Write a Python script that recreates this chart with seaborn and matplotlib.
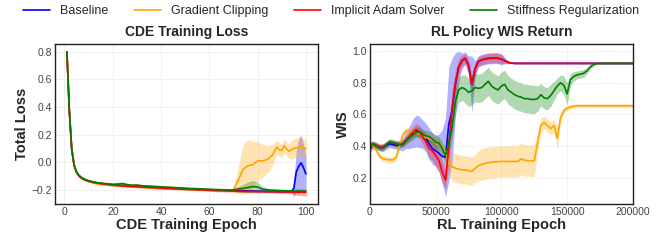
#importing libraries
import numpy as np
import pandas as pd
import seaborn as sns
import matplotlib
matplotlib.use("Agg")
import matplotlib.pyplot as plt

#labels and colours
methods = ["Baseline", "Gradient Clipping", "Implicit Adam Solver", "Stiffness Regularization"]
colors = ["blue", "orange", "red", "green"]

#CDE training loss (mean and spread per epoch)
cde_epochs = list(range(1, 11)) + list(range(12, 89, 2)) + list(range(89, 101))

cde_baseline = [0.80, 0.373, 0.093, -0.022, -0.072, -0.097, -0.112, -0.122, -0.129, -0.135,
                -0.144, -0.150, -0.155, -0.159, -0.163, -0.166, -0.169, -0.171, -0.173, -0.175,
                -0.177, -0.179, -0.181, -0.183, -0.185, -0.187, -0.188, -0.190, -0.191, -0.193,
                -0.194, -0.196, -0.197, -0.198, -0.200, -0.201, -0.202, -0.203, -0.204, -0.205,
                -0.206, -0.207, -0.208, -0.209, -0.210, -0.210, -0.211, -0.211, -0.212,
                -0.212, -0.212, -0.213, -0.213, -0.212, -0.210, -0.190, -0.070, -0.030, -0.005, -0.040, -0.085]
cde_clipping = [0.80, 0.39, 0.11, -0.02, -0.075, -0.10, -0.117, -0.127, -0.135, -0.14,
                -0.150, -0.156, -0.160, -0.164, -0.167, -0.170, -0.173, -0.175, -0.177, -0.179,
                -0.181, -0.183, -0.185, -0.187, -0.189, -0.190, -0.192, -0.193, -0.195, -0.196,
                -0.197, -0.198, -0.200, -0.201, -0.202, -0.203, -0.204, -0.205, -0.205, -0.200,
                -0.130, -0.050, -0.025, -0.018, 0.010, 0.010, 0.020, 0.050, 0.110,
                0.090, 0.085, 0.120, 0.095, 0.080, 0.090, 0.100, 0.105, 0.108, 0.120, 0.100, 0.100]
cde_implicit = [0.80, 0.37, 0.09, -0.025, -0.075, -0.10, -0.115, -0.125, -0.132, -0.138,
                -0.147, -0.153, -0.158, -0.162, -0.166, -0.169, -0.172, -0.174, -0.176, -0.178,
                -0.180, -0.182, -0.184, -0.186, -0.188, -0.190, -0.191, -0.193, -0.194, -0.196,
                -0.197, -0.199, -0.200, -0.201, -0.203, -0.204, -0.205, -0.206, -0.207, -0.208,
                -0.209, -0.210, -0.211, -0.212, -0.213, -0.213, -0.214, -0.214, -0.215,
                -0.215, -0.215, -0.215, -0.216, -0.216, -0.216, -0.216, -0.217, -0.217, -0.217, -0.218, -0.218]
cde_stiffness = [0.80, 0.38, 0.10, -0.02, -0.07, -0.095, -0.11, -0.12, -0.128, -0.134,
                 -0.143, -0.149, -0.153, -0.157, -0.160, -0.158, -0.155, -0.163, -0.166, -0.165,
                 -0.170, -0.172, -0.174, -0.176, -0.178, -0.180, -0.182, -0.184, -0.186, -0.188,
                 -0.190, -0.191, -0.193, -0.195, -0.196, -0.198, -0.199, -0.200, -0.201, -0.200,
                 -0.195, -0.190, -0.183, -0.176, -0.180, -0.195, -0.200, -0.203, -0.205,
                 -0.206, -0.206, -0.207, -0.207, -0.208, -0.208, -0.208, -0.209, -0.209, -0.210, -0.210, -0.210]

cde_baseline_sd = [0.005] * 10 + [0.006] * 39 + [0.006, 0.006, 0.006, 0.006, 0.008, 0.01, 0.06, 0.15, 0.2, 0.2, 0.17, 0.13]
cde_clipping_sd = [0.005] * 10 + [0.006] * 29 + [0.01, 0.1, 0.18, 0.19, 0.17, 0.14, 0.12, 0.1, 0.08, 0.05] + [0.05] * 5 + [0.07] * 7
cde_implicit_sd = [0.005] * 10 + [0.007] * 25 + [0.01] * 14 + [0.012] * 6 + [0.015, 0.025, 0.025, 0.025, 0.025, 0.025]
cde_stiffness_sd = [0.005] * 10 + [0.006] * 5 + [0.012] * 3 + [0.007] * 17 + [0.01] * 5 + [0.02, 0.03, 0.04, 0.045, 0.035, 0.02, 0.012, 0.012, 0.012] + [0.01] * 12

#RL policy WIS return, one value every 2500 epochs
rl_epochs = np.arange(0, 200001, 2500)

rl_baseline = [0.385, 0.405, 0.40, 0.39, 0.39, 0.405, 0.415, 0.41, 0.405, 0.405,
               0.41, 0.435, 0.455, 0.48, 0.495, 0.49, 0.475, 0.455, 0.415, 0.385,
               0.37, 0.355, 0.335, 0.33, 0.54, 0.625, 0.79, 0.90, 0.94, 0.955,
               0.91, 0.79, 0.89, 0.935, 0.945, 0.95, 0.955, 0.955, 0.957, 0.955,
               0.95, 0.94, 0.93, 0.925, 0.923, 0.923, 0.923, 0.923, 0.923, 0.923] + [0.923] * 31
rl_clipping = [0.41, 0.40, 0.37, 0.335, 0.32, 0.315, 0.313, 0.313, 0.33, 0.40,
               0.47, 0.495, 0.497, 0.49, 0.485, 0.48, 0.465, 0.455, 0.448, 0.44,
               0.43, 0.42, 0.40, 0.36, 0.29, 0.27, 0.26, 0.255, 0.25, 0.25,
               0.245, 0.24, 0.26, 0.275, 0.285, 0.29, 0.295, 0.298, 0.30, 0.302,
               0.303, 0.303, 0.303, 0.303, 0.303, 0.303, 0.32, 0.31, 0.308, 0.307,
               0.306, 0.42, 0.53, 0.55, 0.53, 0.51, 0.53, 0.45, 0.58, 0.625,
               0.64, 0.648, 0.652] + [0.655] * 18
rl_implicit = [0.41, 0.415, 0.405, 0.395, 0.395, 0.41, 0.425, 0.42, 0.415, 0.41,
               0.415, 0.44, 0.46, 0.485, 0.505, 0.49, 0.46, 0.43, 0.385, 0.37,
               0.34, 0.31, 0.235, 0.185, 0.40, 0.64, 0.80, 0.90, 0.94, 0.955,
               0.91, 0.79, 0.89, 0.935, 0.945, 0.95, 0.955, 0.955, 0.957, 0.955,
               0.95, 0.94, 0.93, 0.925, 0.923, 0.923, 0.923, 0.923, 0.923, 0.923] + [0.923] * 31
rl_stiffness = [0.405, 0.41, 0.40, 0.39, 0.39, 0.41, 0.425, 0.42, 0.415, 0.41,
                0.415, 0.435, 0.455, 0.47, 0.485, 0.49, 0.475, 0.465, 0.46, 0.445,
                0.425, 0.42, 0.385, 0.34, 0.42, 0.52, 0.68, 0.755, 0.77, 0.76,
                0.74, 0.75, 0.77, 0.765, 0.77, 0.79, 0.81, 0.78, 0.765, 0.755,
                0.78, 0.79, 0.755, 0.74, 0.725, 0.715, 0.71, 0.70, 0.70, 0.695,
                0.695, 0.70, 0.725, 0.705, 0.70, 0.72, 0.75, 0.78, 0.80, 0.785,
                0.73, 0.82, 0.84, 0.85, 0.855, 0.86, 0.875, 0.90, 0.915, 0.922] + [0.923] * 11

rl_baseline_sd = [0.025, 0.02, 0.02, 0.02, 0.025, 0.025, 0.025, 0.025, 0.025, 0.03,
                  0.04, 0.05, 0.07, 0.09, 0.1, 0.1, 0.09, 0.09, 0.1, 0.1,
                  0.1, 0.12, 0.17, 0.25, 0.36, 0.33, 0.2, 0.1, 0.05, 0.04,
                  0.06, 0.18, 0.05, 0.035, 0.035, 0.035, 0.035, 0.035, 0.035, 0.035,
                  0.035, 0.02, 0.01] + [0.003] * 38
rl_clipping_sd = [0.015, 0.015, 0.015, 0.02, 0.02, 0.02, 0.02, 0.02, 0.02, 0.025,
                  0.025, 0.02, 0.02, 0.02, 0.02, 0.02, 0.02, 0.02, 0.025, 0.025,
                  0.025, 0.025, 0.03, 0.04, 0.07, 0.09, 0.09, 0.09, 0.09, 0.09,
                  0.09, 0.09, 0.09, 0.095, 0.1, 0.1, 0.1, 0.1, 0.1, 0.1,
                  0.1, 0.1, 0.1, 0.1, 0.1, 0.1, 0.1, 0.1, 0.1, 0.1,
                  0.1, 0.06, 0.05, 0.04, 0.04, 0.04, 0.04, 0.07, 0.03, 0.02,
                  0.015] + [0.012] * 20
rl_implicit_sd = [0.02] * 10 + [0.02, 0.025, 0.03, 0.035, 0.04, 0.04, 0.045, 0.05, 0.06, 0.06,
                  0.065, 0.07, 0.07, 0.06, 0.12, 0.12, 0.08, 0.05, 0.035, 0.03,
                  0.04, 0.06, 0.04, 0.03, 0.03, 0.03, 0.03, 0.03, 0.03, 0.03,
                  0.03, 0.015, 0.008] + [0.003] * 38
rl_stiffness_sd = [0.02] * 10 + [0.02, 0.025, 0.03, 0.03, 0.03, 0.03, 0.03, 0.035, 0.035, 0.04,
                   0.04, 0.04, 0.04, 0.04, 0.06, 0.07, 0.08, 0.08, 0.08, 0.09] + [0.09] * 21 + \
                  [0.08, 0.07, 0.07, 0.07, 0.07, 0.06, 0.05, 0.05, 0.06,
                   0.07, 0.04, 0.03, 0.025, 0.025, 0.025, 0.02, 0.015, 0.01, 0.005] + [0.005] * 11

cde_means = [cde_baseline, cde_clipping, cde_implicit, cde_stiffness]
cde_sds = [cde_baseline_sd, cde_clipping_sd, cde_implicit_sd, cde_stiffness_sd]
rl_means = [rl_baseline, rl_clipping, rl_implicit, rl_stiffness]
rl_sds = [rl_baseline_sd, rl_clipping_sd, rl_implicit_sd, rl_stiffness_sd]

#style
sns.set_style("whitegrid")
plt.rcParams['font.family'] = ['Liberation Sans', 'DejaVu Sans']

fig, axes = plt.subplots(1, 2, figsize=(6.62, 2.4), dpi=100)
fig.subplots_adjust(left=0.083, right=0.956, bottom=0.15, top=0.817, wspace=0.198)

panels = [(axes[0], cde_epochs, cde_means, cde_sds),
          (axes[1], rl_epochs, rl_means, rl_sds)]
for ax, xs, means, sds in panels:
    for name, col, m, s in zip(methods, colors, means, sds):
        df = pd.DataFrame({"epoch": xs, "value": m, "sd": s})
        ax.fill_between(df["epoch"], df["value"] - df["sd"], df["value"] + df["sd"],
                        color=col, alpha=0.3, linewidth=0)
        sns.lineplot(data=df, x="epoch", y="value", ax=ax, color=col, linewidth=1.2, label=name)
    ax.get_legend().remove()
    for sp in ax.spines.values():
        sp.set_color("#222222")
        sp.set_linewidth(1.0)
    ax.tick_params(axis="both", labelsize=7.5, labelcolor="#444444", pad=2, length=0)

ax1, ax2 = axes
ax1.set_title("CDE Training Loss", fontsize=10, fontweight="bold", pad=6)
ax1.set_xlabel("CDE Training Epoch", fontsize=10.5, fontweight="bold", labelpad=1)
ax1.set_ylabel("Total Loss", fontsize=10.5, fontweight="bold", labelpad=2)
ax1.set_xticks([0, 20, 40, 60, 80, 100])
ax1.set_yticks([-0.2, 0.0, 0.2, 0.4, 0.6, 0.8])
ax1.grid(True, color="#f0f0f0", linewidth=0.7)

ax2.set_title("RL Policy WIS Return", fontsize=10, fontweight="bold", pad=6)
ax2.set_xlabel("RL Training Epoch", fontsize=10.5, fontweight="bold", labelpad=1)
ax2.set_ylabel("WIS", fontsize=10.5, fontweight="bold", labelpad=2)
ax2.set_xlim(0, 200000)
ax2.set_xticks([0, 50000, 100000, 150000, 200000])
ax2.set_yticks([0.2, 0.4, 0.6, 0.8, 1.0])
ax2.grid(True, color="#ececec", linewidth=0.6, linestyle="--")

handles, labels = ax1.get_legend_handles_labels()
fig.legend(handles, labels, loc="upper center", ncol=4, frameon=False, fontsize=9,
           bbox_to_anchor=(0.5, 1.025), handlelength=2.2, columnspacing=2.0)

plt.savefig("out.png", dpi=100)
